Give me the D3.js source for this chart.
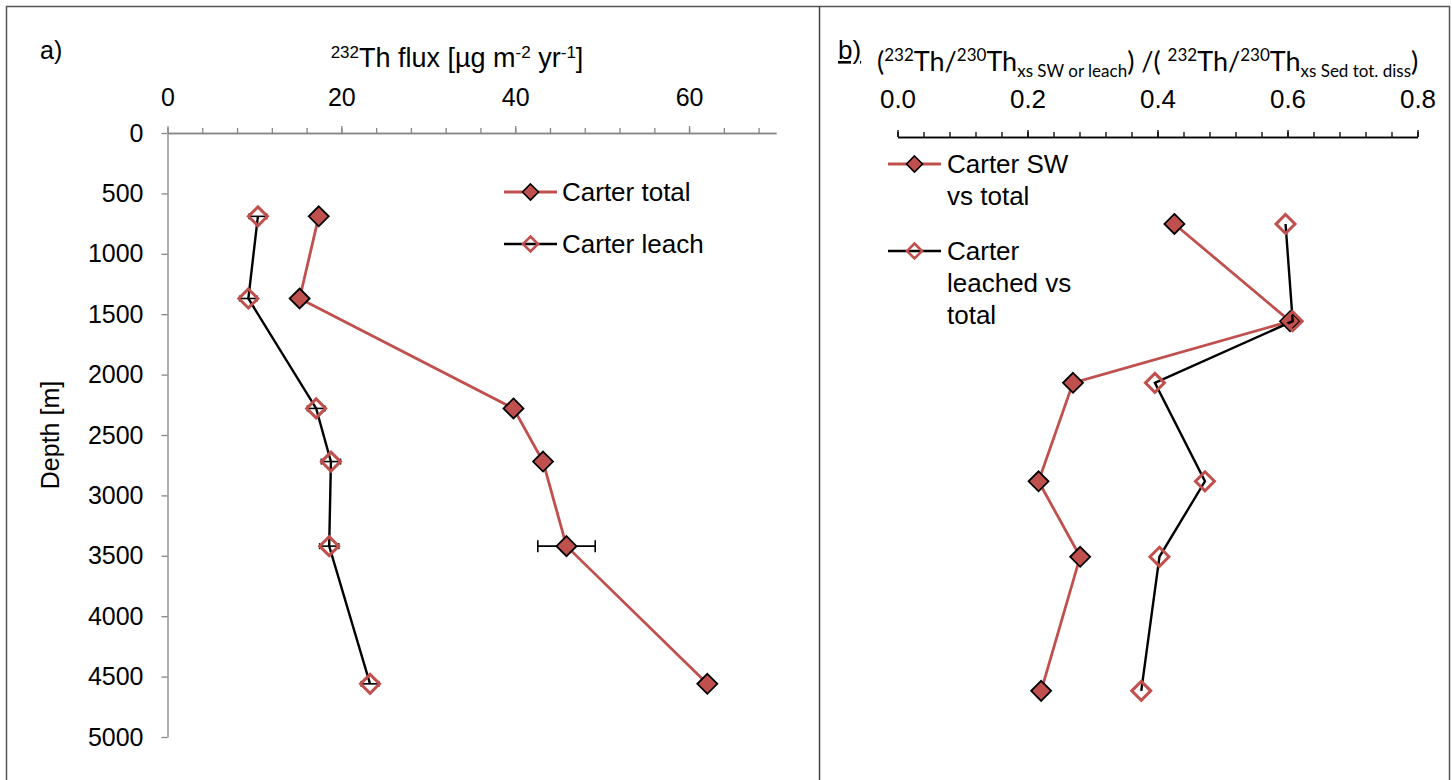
<!DOCTYPE html>
<html>
<head>
<meta charset="utf-8">
<script src="https://cdn.jsdelivr.net/npm/d3@7"></script>
<style>
  html, body { margin: 0; padding: 0; background: #fff; }
  svg { display: block; font-family: "Liberation Sans", Arial, sans-serif; }
</style>
</head>
<body>
<svg id="chart" width="1452" height="780"></svg>
<script>
// ---------- data ----------
const depthA = [690, 1370, 2280, 2720, 3420, 4560];
const totalFlux = [17.4, 15.2, 39.8, 43.2, 45.9, 62.1];
const totalErr = [0, 0, 0, 0, 3.3, 0];
const leachFlux = [10.4, 9.3, 17.1, 18.8, 18.6, 23.3];
const leachErr = [1.0, 1.0, 1.0, 1.1, 1.1, 1.0];

const depthB = [720, 1525, 2035, 2850, 3475, 4585];
const swRatio = [0.426, 0.604, 0.270, 0.217, 0.281, 0.221];
const leachRatio = [0.597, 0.608, 0.396, 0.473, 0.403, 0.375];

const fluxTicks = [0, 20, 40, 60];
const depthTicks = [0, 500, 1000, 1500, 2000, 2500, 3000, 3500, 4000, 4500, 5000];
const ratioTicks = [0, 0.2, 0.4, 0.6, 0.8];

const legendA = ["Carter total", "Carter leach"];
const legendB = [["Carter SW", "vs total"], ["Carter", "leached vs", "total"]];

// ---------- styles ----------
const RED = "#C0504D";
const svg = d3.select("#chart");

// frame
svg.append("rect").attr("x", 6.5).attr("y", 6.5).attr("width", 1443).attr("height", 800)
  .attr("fill", "none").attr("stroke", "#555").attr("stroke-width", 1.5);
svg.append("line").attr("x1", 819.5).attr("x2", 819.5).attr("y1", 6).attr("y2", 780)
  .attr("stroke", "#444").attr("stroke-width", 1.5);

// ---------- scales ----------
const xA = d3.scaleLinear().domain([0, 70]).range([167.5, 776]);
const yA = d3.scaleLinear().domain([0, 5000]).range([133, 737]);
const xB = d3.scaleLinear().domain([0, 0.8]).range([897.5, 1417.5]);
const yB = d3.scaleLinear().domain([0, 5000]).range([137, 741]);

function styleAxis(g, color, fs) {
  g.selectAll("path.domain").attr("stroke", color).attr("stroke-width", 1.3);
  g.selectAll(".tick line").attr("stroke", color).attr("stroke-width", 1.3);
  g.selectAll(".tick text").attr("fill", "#000").style("font-size", fs + "px")
    .style("font-family", '"Liberation Sans", Arial, sans-serif');
}

// ---------- panel a axes ----------
const gAminor = svg.append("g").attr("transform", `translate(0,${yA(0)})`)
  .call(d3.axisTop(xA).tickValues(d3.range(0, 70, 4)).tickSize(5).tickSizeOuter(0).tickFormat(""));
styleAxis(gAminor, "#868686", 24);
const gAtop = svg.append("g").attr("transform", `translate(0,${yA(0)})`)
  .call(d3.axisTop(xA).tickValues(fluxTicks).tickSize(7).tickSizeOuter(0).tickPadding(20));
styleAxis(gAtop, "#868686", 25);

const gAleft = svg.append("g").attr("transform", `translate(${xA(0)},0)`)
  .call(d3.axisLeft(yA).tickValues(depthTicks).tickSize(6).tickSizeOuter(0).tickPadding(18)
    .tickFormat(d3.format("d")));
styleAxis(gAleft, "#868686", 25);

// titles a
svg.append("text").attr("x", 40).attr("y", 59).style("font-size", "25px").text("a)");
const tA = svg.append("text").attr("x", 457).attr("y", 67).attr("text-anchor", "middle")
  .style("font-size", "27px");
tA.append("tspan").attr("dy", -9).style("font-size", "17px").text("232");
tA.append("tspan").attr("dy", 9).text("Th flux [µg m");
tA.append("tspan").attr("dy", -9).style("font-size", "17px").text("-2");
tA.append("tspan").attr("dy", 9).text(" yr");
tA.append("tspan").attr("dy", -9).style("font-size", "17px").text("-1");
tA.append("tspan").attr("dy", 9).text("]");

svg.append("text").attr("transform", `translate(50,${yA(2500)}) rotate(-90)`)
  .attr("text-anchor", "middle").attr("dy", "0.35em").style("font-size", "25px").text("Depth [m]");

// ---------- marks ----------
function diamondPath(r) {
  return `M0,${-r}L${r},0L0,${r}L${-r},0Z`;
}

function series(xs, ys, lineColor, filled, xScale, yScale, errs) {
  const pts = xs.map((v, i) => [xScale(v), yScale(ys[i]), i]);
  const line = d3.line().x(d => d[0]).y(d => d[1]);
  svg.append("path").attr("d", line(pts)).attr("fill", "none")
    .attr("stroke", lineColor).attr("stroke-width", filled ? 2.8 : 2.4);
  if (errs) {
    const eb = svg.append("g").attr("stroke", "#000").attr("stroke-width", 1.6);
    pts.forEach(p => {
      const e = errs[p[2]];
      if (!e) return;
      const x1 = xScale(xs[p[2]] - e), x2 = xScale(xs[p[2]] + e);
      const cap = e > 2 ? 6 : 3;
      eb.append("line").attr("x1", x1).attr("x2", x2).attr("y1", p[1]).attr("y2", p[1]);
      eb.append("line").attr("x1", x1).attr("x2", x1).attr("y1", p[1] - cap).attr("y2", p[1] + cap);
      eb.append("line").attr("x1", x2).attr("x2", x2).attr("y1", p[1] - cap).attr("y2", p[1] + cap);
    });
  }
  svg.append("g").selectAll("path").data(pts).join("path")
    .attr("transform", d => `translate(${d[0]},${d[1]})`)
    .attr("d", diamondPath(filled ? 10 : 9.5))
    .attr("fill", filled ? RED : "none")
    .attr("stroke", filled ? "#000" : RED)
    .attr("stroke-width", filled ? 1.8 : 3);
}

series(leachFlux, depthA, "#000", false, xA, yA, leachErr);
series(totalFlux, depthA, RED, true, xA, yA, totalErr);

// legend a
function legendEntry(x1, x2, y, lineColor, filled) {
  svg.append("line").attr("x1", x1).attr("x2", x2).attr("y1", y).attr("y2", y)
    .attr("stroke", lineColor).attr("stroke-width", filled ? 2.8 : 2.4);
  svg.append("path").attr("transform", `translate(${(x1 + x2) / 2},${y})`)
    .attr("d", diamondPath(filled ? 8 : 7.5))
    .attr("fill", filled ? RED : "none").attr("stroke", filled ? "#000" : RED)
    .attr("stroke-width", filled ? 1.6 : 2.6);
}
legendEntry(504, 557, 192, RED, true);
legendEntry(504, 557, 244, "#000", false);
legendA.forEach((t, i) => {
  svg.append("text").attr("x", 562).attr("y", 192 + i * 52).attr("dy", "0.35em")
    .style("font-size", "26px").text(t);
});

// ---------- panel b ----------
const gBminor = svg.append("g").attr("transform", `translate(0,${yB(0)})`)
  .call(d3.axisTop(xB).tickValues(d3.range(0, 0.8001, 0.04)).tickSize(5).tickSizeOuter(0).tickFormat(""));
styleAxis(gBminor, "#000", 24);
const gBtop = svg.append("g").attr("transform", `translate(0,${yB(0)})`)
  .call(d3.axisTop(xB).tickValues(ratioTicks).tickSize(7).tickSizeOuter(0).tickPadding(22)
    .tickFormat(d3.format(".1f")));
styleAxis(gBtop, "#000", 26);

svg.append("text").attr("x", 838).attr("y", 59).style("font-size", "26px")
  .attr("text-decoration", "underline").text("b)");

const tB = svg.append("text").attr("x", 877).attr("y", 71)
  .style("font-family", "Lato, 'Open Sans', sans-serif").style("font-size", "27px");
const sup = (t) => tB.append("tspan").attr("dy", -10).style("font-size", "17px").text(t);
const sub = (t) => tB.append("tspan").attr("dy", 6).style("font-size", "17px").text(t);
const norm = (t, dy) => tB.append("tspan").attr("dy", dy).text(t);
norm("(", 0); sup("232"); norm("Th/", 10); sup("230"); norm("Th", 10); sub("xs SW or leach");
norm(") /( ", -6); sup("232"); norm("Th/", 10); sup("230"); norm("Th", 10); sub("xs Sed tot. diss");
norm(")", -6);

series(swRatio, depthB, RED, true, xB, yB, null);
series(leachRatio, depthB, "#000", false, xB, yB, null);

// legend b
legendEntry(888, 941, 164, RED, true);
legendEntry(888, 941, 251, "#000", false);
legendB.forEach((lines, i) => {
  lines.forEach((t, j) => {
    svg.append("text").attr("x", 947).attr("y", (i === 0 ? 164 : 251) + j * 32)
      .attr("dy", "0.35em").style("font-size", "26px").text(t);
  });
});
</script>
</body>
</html>
